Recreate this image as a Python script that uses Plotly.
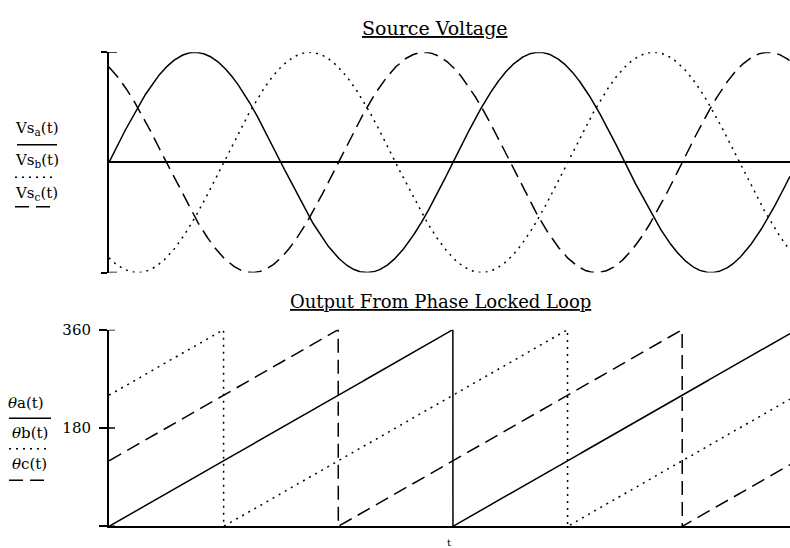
import numpy as np
import plotly.graph_objects as go
from plotly.subplots import make_subplots

# Three-phase source and PLL output angle
freq_hz = 60.0
t_end = 0.033
phase_labels = ["a", "b", "c"]
phase_shift_deg = [0.0, -120.0, 120.0]
amplitude = 1.0
angle_tick_vals = [0, 180, 360]
angle_tick_text = ["", "180", "360"]

# drawing styles
dash_styles = ["solid", "2px,5px", "14px,7px"]
FONT = "DejaVu Serif"
W, H = 790, 548

n_samples = 6000
t = np.linspace(0.0, t_end, n_samples)

fig = make_subplots(rows=2, cols=1)

for lbl, ph, dash in zip(phase_labels, phase_shift_deg, dash_styles):
    wt = 360.0 * freq_hz * t + ph
    vs = amplitude * np.sin(np.deg2rad(wt))
    theta = np.mod(wt, 360.0)
    fig.add_trace(go.Scatter(x=t, y=vs, mode="lines", name=f"Vs{lbl}(t)",
                             line=dict(color="black", width=1.5, dash=dash)),
                  row=1, col=1)
    fig.add_trace(go.Scatter(x=t, y=theta, mode="lines", name=f"θ{lbl}(t)",
                             line=dict(color="black", width=1.5, dash=dash)),
                  row=2, col=1)

x_dom = [109 / W, 1.0]
top_dom = [(H - 268) / H, (H - 44) / H]
bot_dom = [(H - 526) / H, (H - 326) / H]

fig.update_layout(
    width=W, height=H,
    margin=dict(l=0, r=0, t=0, b=0),
    paper_bgcolor="white", plot_bgcolor="white",
    showlegend=False,
    font=dict(family=FONT, color="black"),
    xaxis=dict(domain=x_dom, range=[0, t_end], showgrid=False, zeroline=False,
               showline=False, showticklabels=False, ticks=""),
    yaxis=dict(domain=top_dom, range=[-amplitude, amplitude], showgrid=False,
               zeroline=True, zerolinecolor="black", zerolinewidth=1.5,
               showline=True, linecolor="black", linewidth=2,
               ticks="outside", ticklen=6, tickwidth=1.5, tickcolor="black",
               tickvals=[-amplitude, amplitude], showticklabels=False),
    xaxis2=dict(domain=x_dom, range=[0, t_end], showgrid=False, zeroline=False,
                showline=True, linecolor="black", linewidth=2,
                showticklabels=False, ticks=""),
    yaxis2=dict(domain=bot_dom, range=[0, 360], showgrid=False, zeroline=False,
                showline=True, linecolor="black", linewidth=2,
                ticks="outside", ticklen=8, tickwidth=1.5, tickcolor="black",
                tickvals=angle_tick_vals, ticktext=angle_tick_text,
                ticklabelstandoff=5,
                tickfont=dict(family=FONT, size=15, color="black")),
)

shapes = []
# inner halves of the crossing tick marks
for v in [-amplitude, amplitude]:
    shapes.append(dict(type="line", xref="x domain", yref="y", x0=0, x1=8 / 681,
                       y0=v, y1=v, line=dict(color="black", width=1.5)))
for v in angle_tick_vals:
    shapes.append(dict(type="line", xref="x2 domain", yref="y2", x0=0, x1=6 / 681,
                       y0=v, y1=v, line=dict(color="black", width=1.5)))

# legend line samples under each label
legend_lines = [
    (17, 57, 138, dash_styles[0]), (15, 52, 171, dash_styles[1]), (15, 55, 201, dash_styles[2]),
    (9, 51, 416, dash_styles[0]), (9, 46, 447, dash_styles[1]), (9, 50, 479, dash_styles[2]),
]
for x0, x1, yy, dash in legend_lines:
    shapes.append(dict(type="line", xref="paper", yref="paper",
                       x0=x0 / W, x1=x1 / W, y0=1 - yy / H, y1=1 - yy / H,
                       line=dict(color="black", width=1.5, dash=dash)))
fig.update_layout(shapes=shapes)

def ann(text, px, py, size, xanchor="left"):
    return dict(text=text, x=px / W, y=1 - py / H, xref="paper", yref="paper",
                xanchor=xanchor, yanchor="middle", showarrow=False,
                font=dict(family=FONT, size=size, color="black"))

annotations = [
    ann('<span style="text-decoration:underline">Source Voltage</span>', 435, 19, 19, "center"),
    ann('<span style="text-decoration:underline">Output From Phase Locked Loop</span>', 440, 297, 18, "center"),
    ann("t", 449, 542, 10, "center"),
]
ys_top = [121, 154, 188]
ys_bot = [401, 431, 463]
xs_bot = [6, 10, 10]
for lbl, yy in zip(phase_labels, ys_top):
    annotations.append(ann(f"Vs<sub>{lbl}</sub>(t)", 13, yy, 15))
for lbl, yy, xx in zip(phase_labels, ys_bot, xs_bot):
    annotations.append(ann(f"<i>θ</i>{lbl}(t)", xx, yy, 15))
fig.update_layout(annotations=annotations)

fig.write_html("out.html")
